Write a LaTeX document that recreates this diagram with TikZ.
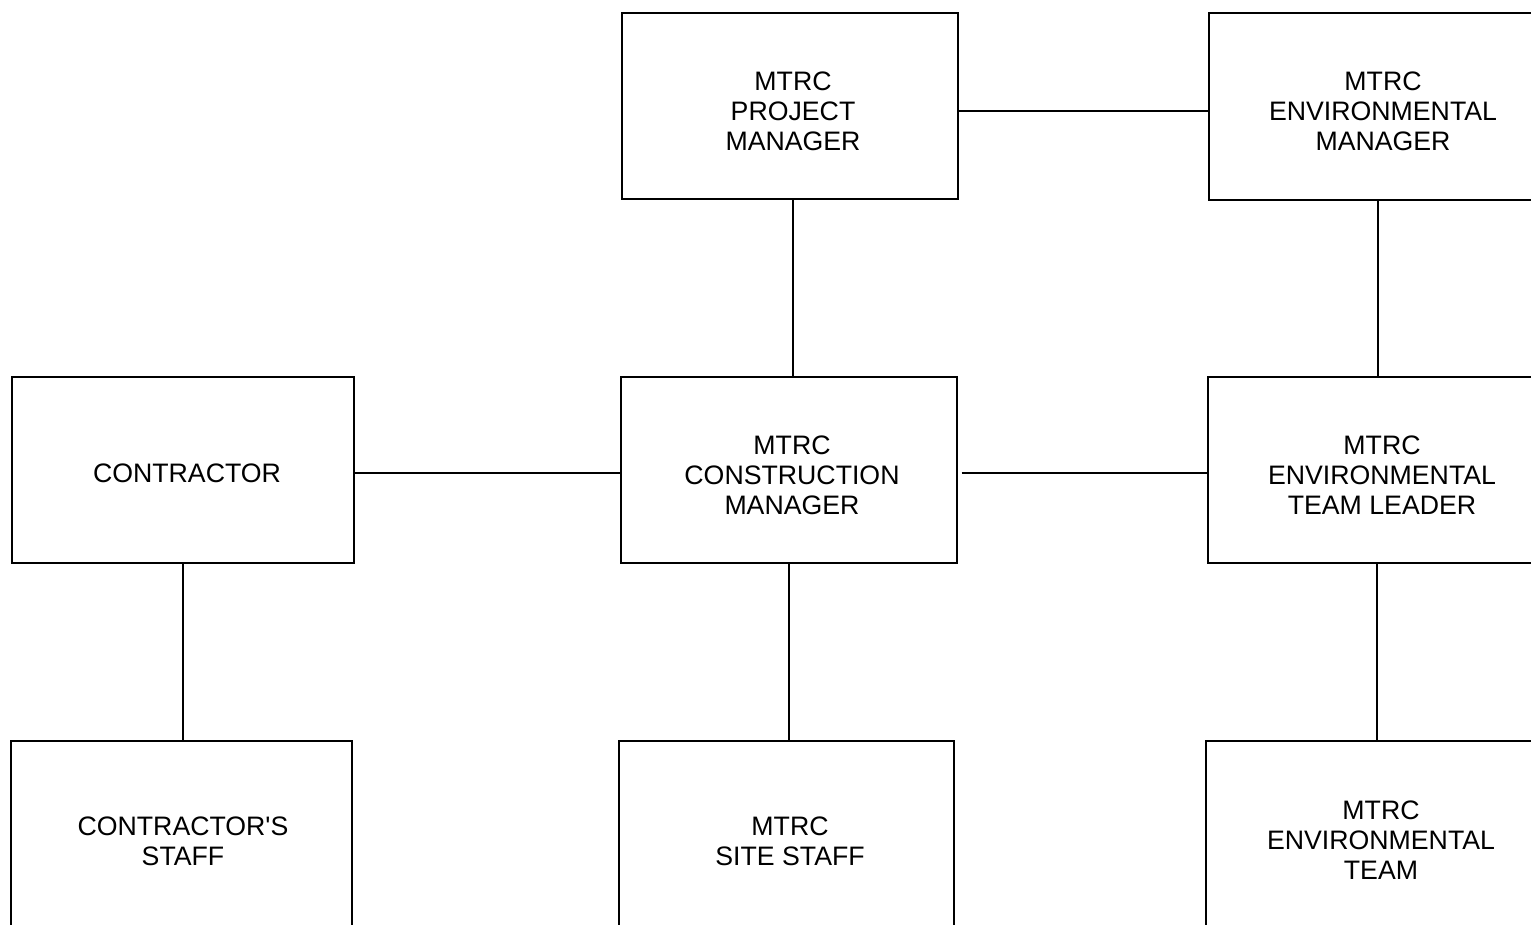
\documentclass[tikz,border=0pt]{standalone}
\usepackage{fontspec}
\setmainfont{Liberation Sans}[Ligatures=TeXOff]
\begin{document}
\begin{tikzpicture}[x=1pt,y=-1pt,
  orgbox/.style={draw, line width=1.7pt, inner sep=0pt, anchor=north west},
  orgtext/.style={font=\fontsize{26.7}{30}\selectfont, align=center, inner sep=0pt},
  link/.style={line width=1.7pt}]
\useasboundingbox (0,0) rectangle (1531,925);
\clip (0,0) rectangle (1531,925);
% boxes
\node[orgbox, minimum width=336pt, minimum height=186pt] (pm) at (621,12) {};
\node[orgbox, minimum width=338pt, minimum height=187pt] (em) at (1208,12) {};
\node[orgbox, minimum width=342pt, minimum height=186pt] (ct) at (11,376) {};
\node[orgbox, minimum width=336pt, minimum height=186pt] (cm) at (620,376) {};
\node[orgbox, minimum width=338pt, minimum height=186pt] (etl) at (1207,376) {};
\node[orgbox, minimum width=341pt, minimum height=200pt] (cs) at (10,740) {};
\node[orgbox, minimum width=335pt, minimum height=200pt] (ss) at (618,740) {};
\node[orgbox, minimum width=340pt, minimum height=200pt] (et) at (1205,740) {};
% texts
\node[orgtext] (pmt) at (793,111) {MTRC\\PROJECT\\MANAGER};
\node[orgtext] (emt) at (1383,111) {MTRC\\ENVIRONMENTAL\\MANAGER};
\node[orgtext] (ctt) at (187,473) {CONTRACTOR};
\node[orgtext] (cmt) at (792,475) {MTRC\\CONSTRUCTION\\MANAGER};
\node[orgtext] (etlt) at (1382,475) {MTRC\\ENVIRONMENTAL\\TEAM LEADER};
\node[orgtext] (cst) at (183,841) {CONTRACTOR'S\\STAFF};
\node[orgtext] (sst) at (790,841) {MTRC\\SITE STAFF};
\node[orgtext] (ett) at (1381,840) {MTRC\\ENVIRONMENTAL\\TEAM};
% connectors
\draw[link] (pmt -| pm.east) -- (pmt -| em.west);
\draw[link] (pmt |- pm.south) -- (pmt |- cm.north);
\draw[link] (em.south) -- (em.south |- etl.north);
\draw[link] (ctt -| ct.east) -- (ctt -| cm.west);
\draw[link] (ctt -| cm.east) ++(4,0) -- (ctt -| etl.west);
\draw[link] (ct.south) -- (ct.south |- cs.north);
\draw[link] (cm.south) -- (cm.south |- ss.north);
\draw[link] (etl.south) -- (etl.south |- et.north);
\end{tikzpicture}
\end{document}
